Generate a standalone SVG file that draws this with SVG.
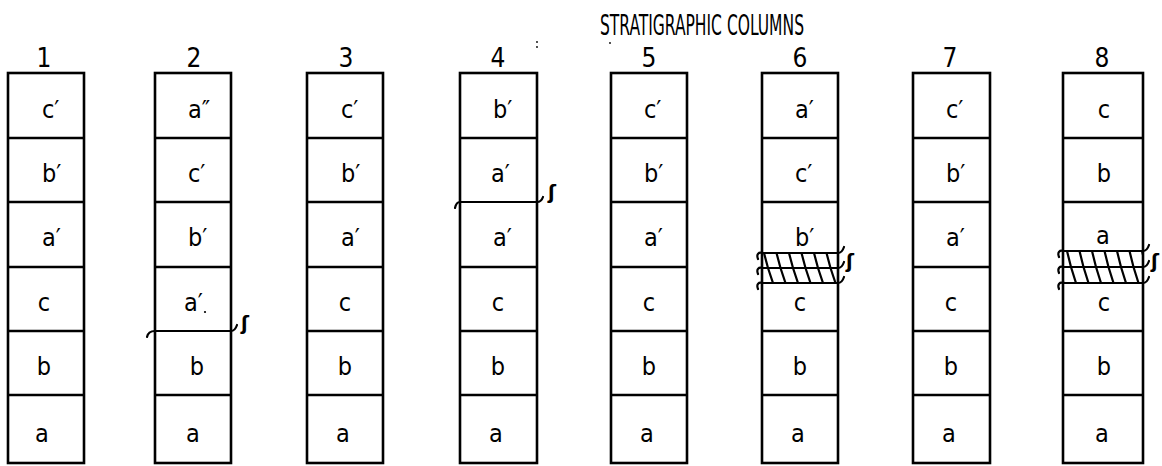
<svg xmlns="http://www.w3.org/2000/svg" width="1162" height="466" viewBox="0 0 1162 466">
<style>
.box{fill:none;stroke:#000;stroke-width:2.6}
.ln{fill:none;stroke:#000;stroke-width:2.4}
.un{fill:none;stroke:#000;stroke-width:2.2;stroke-linecap:round}
.ht{fill:none;stroke:#000;stroke-width:2.2}
.t{font-family:"DejaVu Sans Condensed","DejaVu Sans",sans-serif;fill:#000}
.num{font-size:26px;text-anchor:middle}
.lab{font-size:25px}
.mid{text-anchor:middle}
.s{font-family:"DejaVu Sans","DejaVu Sans Condensed",sans-serif;font-size:19px;font-weight:bold;fill:#000}
</style>
<defs>
<clipPath id="band6"><rect x="762" y="253" width="76" height="30"/></clipPath>
<clipPath id="band8"><rect x="1063" y="251" width="80" height="32"/></clipPath>
</defs>
<text class="t" x="600" y="35" font-size="28" textLength="204" lengthAdjust="spacingAndGlyphs">STRATIGRAPHIC COLUMNS</text>
<circle cx="537" cy="42" r="0.9" fill="#000"/><circle cx="537" cy="47" r="0.9" fill="#000"/>
<circle cx="610" cy="43" r="0.9" fill="#000"/>

<g id="col1">
<text class="t num" x="44" y="67">1</text>
<rect class="box" x="8" y="73" width="76" height="390"/>
<path class="ln" d="M8,138H84M8,202H84M8,267H84M8,331H84M8,395H84"/>
<text class="t lab" x="42" y="118">c′</text>
<text class="t lab" x="42" y="182">b′</text>
<text class="t lab" x="42" y="246">a′</text>
<text class="t lab mid" x="44" y="311">c</text>
<text class="t lab mid" x="44" y="375">b</text>
<text class="t lab mid" x="42" y="442">a</text>
</g>

<g id="col2">
<text class="t num" x="194" y="67">2</text>
<rect class="box" x="155" y="73" width="76" height="390"/>
<path class="ln" d="M155,138H231M155,202H231M155,267H231M155,395H231"/>
<path class="un" d="M147,337C148,332 151,331 155,331L231,331C234,331 236,328 237,325"/>
<text class="s" x="241" y="330">ʃ</text>
<text class="t lab" x="188" y="118">a″</text>
<text class="t lab" x="188" y="182">c′</text>
<text class="t lab" x="188" y="246">b′</text>
<text class="t lab" x="184" y="311">a′</text>
<circle cx="205" cy="312" r="1.1" fill="#000"/>
<text class="t lab mid" x="197" y="375">b</text>
<text class="t lab mid" x="193" y="442">a</text>
</g>

<g id="col3">
<text class="t num" x="346" y="67">3</text>
<rect class="box" x="307" y="73" width="76" height="390"/>
<path class="ln" d="M307,138H383M307,202H383M307,267H383M307,331H383M307,395H383"/>
<text class="t lab" x="341" y="118">c′</text>
<text class="t lab" x="341" y="182">b′</text>
<text class="t lab" x="341" y="246">a′</text>
<text class="t lab mid" x="345" y="311">c</text>
<text class="t lab mid" x="345" y="375">b</text>
<text class="t lab mid" x="343" y="442">a</text>
</g>

<g id="col4">
<text class="t num" x="498" y="67">4</text>
<rect class="box" x="460" y="73" width="77" height="390"/>
<path class="ln" d="M460,138H537M460,267H537M460,331H537M460,395H537"/>
<path class="un" d="M455,208C456,203 458,202 460,202L537,202C540,202 542,200 543,197"/>
<text class="s" x="548" y="199">ʃ</text>
<text class="t lab" x="493" y="118">b′</text>
<text class="t lab" x="491" y="182">a′</text>
<text class="t lab" x="493" y="246">a′</text>
<text class="t lab mid" x="498" y="311">c</text>
<text class="t lab mid" x="498" y="375">b</text>
<text class="t lab mid" x="496" y="442">a</text>
</g>

<g id="col5">
<text class="t num" x="649" y="67">5</text>
<rect class="box" x="611" y="73" width="76" height="390"/>
<path class="ln" d="M611,138H687M611,202H687M611,267H687M611,331H687M611,395H687"/>
<text class="t lab" x="644" y="118">c′</text>
<text class="t lab" x="644" y="182">b′</text>
<text class="t lab" x="644" y="246">a′</text>
<text class="t lab mid" x="649" y="311">c</text>
<text class="t lab mid" x="649" y="375">b</text>
<text class="t lab mid" x="647" y="442">a</text>
</g>

<g id="col6">
<text class="t num" x="800" y="67">6</text>
<rect class="box" x="762" y="73" width="76" height="390"/>
<path class="ln" d="M762,138H838M762,202H838M762,331H838M762,395H838"/>
<g clip-path="url(#band6)">
<path class="ht" d="M764,253L768,268L773,283M776.5,253L780.5,268L785.5,283M789,253L793,268L798,283M801.5,253L805.5,268L810.5,283M814,253L818,268L823,283M826.5,253L830.5,268L835.5,283M839,253L843,268L848,283M751.5,253L755.5,268L760.5,283"/>
</g>
<path class="un" d="M758,259C756,254 759,252 762,253L838,253C841,253 843,250 844,247"/>
<path class="un" d="M758,274C756,269 759,267 762,268L838,268C841,268 843,265 844,262"/>
<path class="un" d="M758,289C756,284 759,282 762,283L838,283C841,283 843,280 844,277"/>
<text class="s" x="846" y="268">ʃ</text>
<text class="t lab" x="795" y="118">a′</text>
<text class="t lab" x="795" y="182">c′</text>
<text class="t lab" x="795" y="246">b′</text>
<text class="t lab mid" x="800" y="311">c</text>
<text class="t lab mid" x="800" y="375">b</text>
<text class="t lab mid" x="798" y="442">a</text>
</g>

<g id="col7">
<text class="t num" x="950" y="67">7</text>
<rect class="box" x="913" y="73" width="77" height="390"/>
<path class="ln" d="M913,138H990M913,202H990M913,267H990M913,331H990M913,395H990"/>
<text class="t lab" x="946" y="118">c′</text>
<text class="t lab" x="946" y="182">b′</text>
<text class="t lab" x="946" y="246">a′</text>
<text class="t lab mid" x="951" y="311">c</text>
<text class="t lab mid" x="951" y="375">b</text>
<text class="t lab mid" x="949" y="442">a</text>
</g>

<g id="col8">
<text class="t num" x="1102" y="67">8</text>
<rect class="box" x="1063" y="73" width="80" height="390"/>
<path class="ln" d="M1063,138H1143M1063,202H1143M1063,331H1143M1063,395H1143"/>
<g clip-path="url(#band8)">
<path class="ht" d="M1054.5,251L1058.5,267L1063.5,283M1067,251L1071,267L1076,283M1079.5,251L1083.5,267L1088.5,283M1092,251L1096,267L1101,283M1104.5,251L1108.5,267L1113.5,283M1117,251L1121,267L1126,283M1129.5,251L1133.5,267L1138.5,283M1142,251L1146,267L1151,283"/>
</g>
<path class="un" d="M1059,257C1057,252 1060,250 1063,251L1143,251C1146,251 1148,248 1149,245"/>
<path class="un" d="M1059,273C1057,268 1060,266 1063,267L1143,267C1146,267 1148,264 1149,261"/>
<path class="un" d="M1059,289C1057,284 1060,282 1063,283L1143,283C1146,283 1148,280 1149,277"/>
<text class="s" x="1151" y="268">ʃ</text>
<text class="t lab mid" x="1104" y="118">c</text>
<text class="t lab mid" x="1104" y="182">b</text>
<text class="t lab mid" x="1103" y="244">a</text>
<text class="t lab mid" x="1104" y="311">c</text>
<text class="t lab mid" x="1104" y="375">b</text>
<text class="t lab mid" x="1102" y="442">a</text>
</g>
</svg>
